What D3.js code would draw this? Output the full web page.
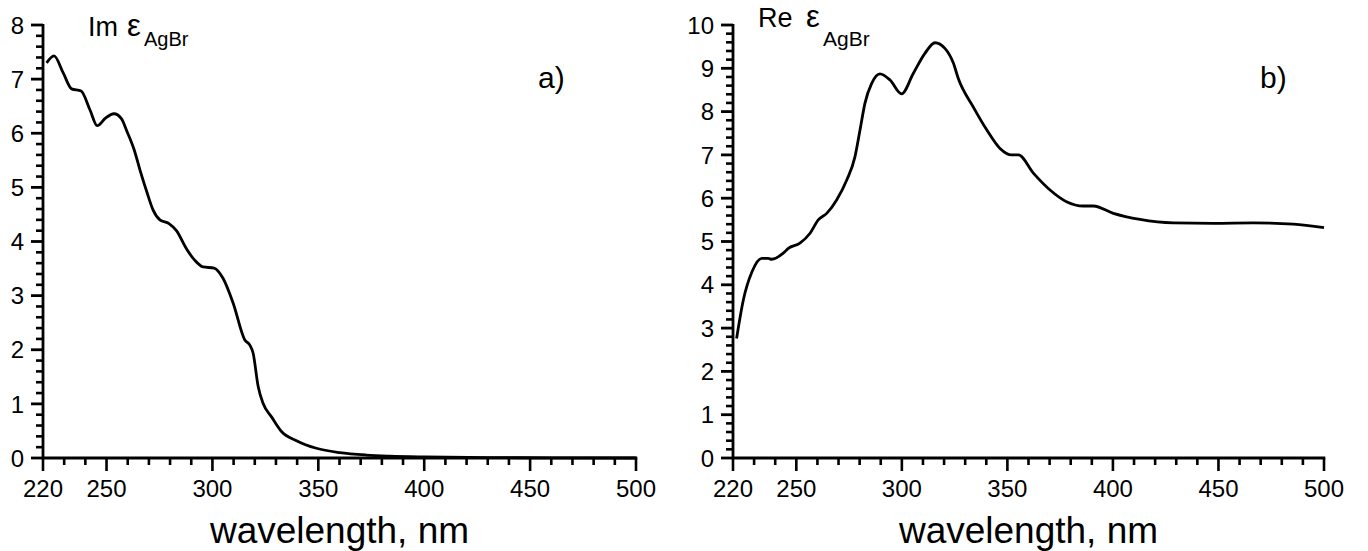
<!DOCTYPE html>
<html><head><meta charset="utf-8">
<script src="https://cdn.jsdelivr.net/npm/d3@7"></script>
<style>
body{margin:0;background:#fff;}
text{font-family:"Liberation Sans",Arial,sans-serif;fill:#000;}
</style></head>
<body><svg id="c" width="1368" height="551"></svg>
<script>
// Panel a) Im epsilon
const imWavelength = [221.7,225.2,229.6,233.5,238,242.2,245.6,249.5,253.5,257,259.8,263,265.8,269,272,275.2,279.5,283,287.8,291.5,295.6,300.8,305,309.8,315.3,317.6,319.2,321.6,323.9,327.9,332.6,339.7,349.1,360.1,372.7,383.7,400,430,460,500];
const imValues = [7.30,7.43,7.11,6.82,6.78,6.43,6.14,6.28,6.36,6.27,6.02,5.70,5.32,4.92,4.58,4.40,4.33,4.20,3.86,3.66,3.53,3.51,3.32,2.86,2.18,2.09,1.94,1.32,1.01,0.76,0.49,0.32,0.18,0.10,0.055,0.035,0.02,0.008,0.003,0.0];
// Panel b) Re epsilon
const reWavelength = [221.7,224.9,229,233.6,236.7,238.3,243.8,246.2,251.7,256.5,260.4,264.4,269.1,273.9,277.8,280.2,282.5,285.7,289.6,294.4,299.9,305.4,311,315.7,320.4,324.4,326.7,333.8,340.2,346.5,352,355.2,362.3,370.2,378,386,390.7,400.2,412.8,428.6,447.6,466.5,485.5,500];
const reValues = [2.76,3.65,4.30,4.61,4.61,4.59,4.73,4.84,4.96,5.19,5.50,5.65,5.96,6.42,6.96,7.58,8.19,8.65,8.87,8.73,8.41,8.88,9.35,9.59,9.46,9.12,8.77,8.11,7.58,7.15,7.0,7.0,6.58,6.19,5.92,5.82,5.82,5.65,5.51,5.43,5.42,5.43,5.40,5.32];

const xTickLabels = [220,250,300,350,400,450,500];
const xMinorTicks = [230,240,260,270,280,290,310,320,330,340,360,370,380,390,410,420,430,440,460,470,480,490];
const imYTicks = [0,1,2,3,4,5,6,7,8];
const reYTicks = [0,1,2,3,4,5,6,7,8,9,10];

const svg = d3.select("#c");

function panel(opt){
  const g = svg.append("g");
  const x = d3.scaleLinear().domain([220,500]).range([opt.x0,opt.x1]);
  const y = d3.scaleLinear().domain([0,opt.ymax]).range([458,25]);
  const yMinor = d3.range(0,opt.ymax*5+1).map(k=>k/5).filter(v=>Math.abs(v-Math.round(v))>0.01);

  // y ticks
  g.selectAll("rect.ym").data(yMinor).join("rect").attr("class","ym")
    .attr("x",opt.x0-7).attr("y",d=>y(d)-1.3).attr("width",7).attr("height",2.6).attr("fill","#000");
  g.selectAll("rect.yM").data(opt.yTicks).join("rect").attr("class","yM")
    .attr("x",opt.x0-12).attr("y",d=>y(d)-1.4).attr("width",12).attr("height",2.8).attr("fill","#000");
  // x ticks
  const xt = d3.path();
  xMinorTicks.forEach(v=>{xt.moveTo(x(v),458);xt.lineTo(x(v),465);});
  xTickLabels.forEach(v=>{xt.moveTo(x(v),458);xt.lineTo(x(v),471);});
  g.append("path").attr("d",xt.toString()).attr("fill","none").attr("stroke","#000").attr("stroke-width",2.6);

  g.selectAll("text.yl").data(opt.yTicks).join("text").attr("class","yl")
    .attr("x",opt.x0-19).attr("y",d=>y(d)).attr("dy","0.36em")
    .attr("text-anchor","end").attr("font-size",24).text(d=>d);
  g.selectAll("text.xl").data(xTickLabels).join("text").attr("class","xl")
    .attr("x",d=>x(d)).attr("y",497).attr("text-anchor","middle").attr("font-size",24).text(d=>d);

  // axis lines
  g.append("path").attr("d",`M${opt.x0},${y(opt.ymax)-1}V458H${opt.x1+1.3}`)
    .attr("fill","none").attr("stroke","#000").attr("stroke-width",2.8);
  // curve
  const line = d3.line().x((d,i)=>x(opt.xs[i])).y(d=>y(d)).curve(d3.curveMonotoneX);
  g.append("path").datum(opt.ys).attr("d",line).attr("fill","none")
    .attr("stroke","#000").attr("stroke-width",2.8).attr("stroke-linejoin","round");
  // x title
  g.append("text").attr("x",(opt.x0+opt.x1)/2).attr("y",543).attr("text-anchor","middle")
    .attr("font-size",37).text("wavelength, nm");
  // panel letter
  g.append("text").attr("x",opt.letterX).attr("y",88).attr("font-size",30).text(opt.letter);
  // y title
  const t = opt.title;
  g.append("text").attr("x",t.x).attr("y",t.b1).attr("font-size",27).text(t.main);
  g.append("text").attr("x",t.ex).attr("y",t.b1).attr("font-size",31).text("ε");
  g.append("text").attr("x",t.sx).attr("y",t.b2).attr("font-size",t.ss).text("AgBr");
}

panel({x0:43,x1:636,ymax:8,yTicks:imYTicks,xs:imWavelength,ys:imValues,letter:"a)",letterX:538,
  title:{main:"Im",x:88,b1:36,ex:127,sx:144,b2:46,ss:20}});
panel({x0:733,x1:1324,ymax:10,yTicks:reYTicks,xs:reWavelength,ys:reValues,letter:"b)",letterX:1260,
  title:{main:"Re",x:758,b1:27,ex:806,sx:823,b2:46,ss:21}});
</script></body></html>
